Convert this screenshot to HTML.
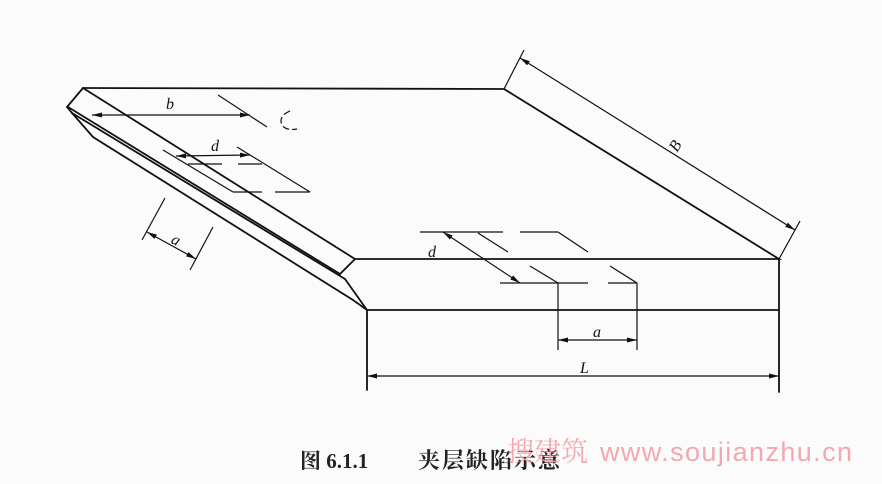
<!DOCTYPE html>
<html><head><meta charset="utf-8"><style>
body{margin:0;background:#fbfbfb;}
svg{display:block}
</style></head><body>
<svg width="882" height="484" viewBox="0 0 882 484" xmlns="http://www.w3.org/2000/svg">
<defs>
<marker id="ar" viewBox="0 0 10 6" refX="10" refY="3" markerWidth="10" markerHeight="6" orient="auto-start-reverse" markerUnits="userSpaceOnUse"><path d="M0,0.5 L10,3 L0,5.5 z" fill="#111"/></marker>
</defs>
<g stroke="#111" stroke-width="1.8" fill="none" stroke-linecap="round">
<path d="M83,88 L504,89 L779,259 L355,259"/>
<path d="M83,88 L67,107 L72,113"/>
<path d="M83,88 L355,259 L340,274"/>
<path d="M68,107 L340,274"/>
<path d="M72,113 L345,279"/>
<path d="M72,113 L93,137 L353,300 L367,310 L779,310 L779,259"/>
<path d="M345,279 L367,310"/>
<path d="M367,310 L367,390"/>
<path d="M779,310 L779,392"/>
</g>
<g stroke="#111" stroke-width="1.2" fill="none">
<line x1="92" y1="115" x2="250" y2="115" marker-start="url(#ar)" marker-end="url(#ar)"/>
<line x1="218" y1="95" x2="267" y2="127"/>
<path d="M290,111 Q278,116 282,125 Q286,131 297,129" stroke-dasharray="7,3"/>
<line x1="163" y1="150" x2="233" y2="192"/>
<line x1="237" y1="147" x2="310" y2="192"/>
<line x1="233" y1="192" x2="262" y2="192"/>
<line x1="275" y1="192" x2="310" y2="192"/>
<line x1="188" y1="164" x2="222" y2="164"/>
<line x1="238" y1="164" x2="262" y2="164"/>
<line x1="176" y1="156" x2="250" y2="155" marker-start="url(#ar)" marker-end="url(#ar)"/>
<line x1="165" y1="198" x2="142" y2="240"/>
<line x1="213" y1="227" x2="190" y2="270"/>
<line x1="147" y1="232" x2="196" y2="259" marker-start="url(#ar)" marker-end="url(#ar)"/>
<line x1="420" y1="232" x2="503" y2="232"/>
<line x1="520" y1="232" x2="558" y2="232"/>
<line x1="478" y1="233" x2="508" y2="252"/>
<line x1="558" y1="232" x2="588" y2="252"/>
<line x1="500" y1="283" x2="588" y2="283"/>
<line x1="608" y1="283" x2="637" y2="283"/>
<line x1="530" y1="266" x2="558" y2="283"/>
<line x1="610" y1="266" x2="637" y2="283"/>
<line x1="443" y1="232" x2="520" y2="283" marker-start="url(#ar)" marker-end="url(#ar)"/>
<line x1="558" y1="283" x2="558" y2="350"/>
<line x1="637" y1="283" x2="637" y2="350"/>
<line x1="558" y1="340" x2="637" y2="340" marker-start="url(#ar)" marker-end="url(#ar)"/>
<line x1="367" y1="376" x2="779" y2="376" marker-start="url(#ar)" marker-end="url(#ar)"/>
<line x1="504" y1="89" x2="524" y2="50"/>
<line x1="779" y1="259" x2="800" y2="221"/>
<line x1="520" y1="58" x2="795" y2="230" marker-start="url(#ar)" marker-end="url(#ar)"/>
</g>
<g font-family="Liberation Serif, serif" font-style="italic" font-size="16" fill="#111">
<text x="166" y="109">b</text>
<text x="211" y="151">d</text>
<text x="172" y="245" transform="rotate(28 176 240)">a</text>
<text x="428" y="257">d</text>
<text x="593" y="337">a</text>
<text x="580" y="373">L</text>
<text x="670" y="150" transform="rotate(-58 676 145)">B</text>
</g>
<text x="300" y="468" font-family="Liberation Serif, 'Noto Serif CJK SC', serif" font-weight="bold" font-size="21" fill="#222">图 6.1.1</text>
<text x="418" y="468" font-family="'Noto Serif CJK SC', serif" font-weight="bold" font-size="22" fill="#222" letter-spacing="2">夹层缺陷示意</text>
<text x="507" y="461" font-family="'Noto Serif CJK SC', serif" font-size="27" fill="#f29aa4" opacity="0.85">搜建筑</text>
<text x="600" y="461" font-family="Liberation Sans, sans-serif" font-size="27" fill="#f29aa4" opacity="0.85" textLength="252">www.soujianzhu.cn</text>
</svg>
</body></html>
